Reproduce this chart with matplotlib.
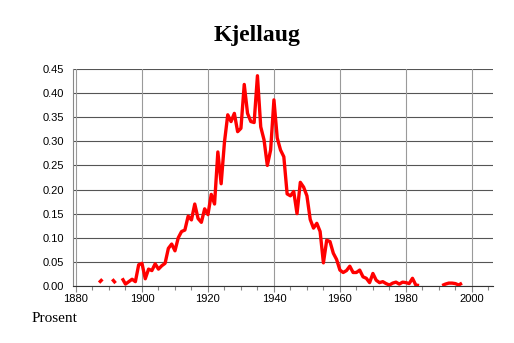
import numpy as np
import matplotlib
matplotlib.use("Agg")
import matplotlib.pyplot as plt
from matplotlib.ticker import MultipleLocator

title = "Kjellaug"
ylabel_text = "Prosent"

years = list(range(1887, 1998))
nan = np.nan
values = [
    0.007, 0.014, nan, nan, 0.014, 0.006, nan,            # 1887-1893
    0.016, 0.004, 0.009, 0.014, 0.009, 0.044,              # 1894-1899
    0.047, 0.015, 0.035, 0.032, 0.046, 0.035, 0.042, 0.047, 0.078, 0.087,  # 1900-1909
    0.073, 0.100, 0.113, 0.116, 0.145, 0.137, 0.170, 0.140, 0.132, 0.160,  # 1910-1919
    0.148, 0.190, 0.170, 0.278, 0.212, 0.298, 0.355, 0.341, 0.358, 0.320,  # 1920-1929
    0.327, 0.418, 0.358, 0.341, 0.339, 0.436, 0.330, 0.303, 0.250, 0.282,  # 1930-1939
    0.386, 0.307, 0.282, 0.268, 0.191, 0.187, 0.196, 0.150, 0.215, 0.205,  # 1940-1949
    0.187, 0.138, 0.120, 0.130, 0.113, 0.048, 0.095, 0.092, 0.068, 0.055,  # 1950-1959
    0.033, 0.028, 0.032, 0.041, 0.028, 0.028, 0.033, 0.019, 0.016, 0.007,  # 1960-1969
    0.026, 0.012, 0.007, 0.009, 0.005, 0.002, 0.006, 0.008, 0.004, 0.008,  # 1970-1979
    0.007, 0.005, 0.016, 0.002, 0.001, nan, nan, nan, nan, nan,            # 1980-1989
    nan, 0.001, 0.004, 0.006, 0.006, 0.005, 0.002, 0.006,                 # 1990-1997
]

yticks = [0.00, 0.05, 0.10, 0.15, 0.20, 0.25, 0.30, 0.35, 0.40, 0.45]
xticks = [1880, 1900, 1920, 1940, 1960, 1980, 2000]

W, H = 514, 343
fig = plt.figure(figsize=(W / 100, H / 100), dpi=100)
fig.patch.set_facecolor("white")
left, right, top, bottom = 72.7, 493.3, 69.0, 286.0
ax = fig.add_axes([left / W, 1 - bottom / H, (right - left) / W, (bottom - top) / H])

ax.plot(years, values, color="#ff0000", linewidth=2.4, solid_joinstyle="round",
        solid_capstyle="butt", zorder=3)

ax.set_xlim(1879.0, 2006.5)
ax.set_ylim(0, 0.45)
ax.set_xticks(xticks)
ax.set_yticks(yticks)
ax.set_yticklabels([f"{v:.2f}" for v in yticks])
ax.xaxis.set_minor_locator(MultipleLocator(5))

for y in yticks:
    ax.axhline(y, color="#555555", linewidth=0.8, zorder=1)
for x in xticks:
    ax.axvline(x, color="#9a9a9a", linewidth=0.8, zorder=1)

for s in ["top", "right"]:
    ax.spines[s].set_visible(False)
ax.spines["left"].set_color("#888888")
ax.spines["left"].set_linewidth(0.8)
ax.spines["bottom"].set_color("#333333")
ax.spines["bottom"].set_linewidth(0.8)

for lab in ax.get_xticklabels() + ax.get_yticklabels():
    lab.set_fontfamily("Liberation Sans")
    lab.set_fontsize(8)
ax.tick_params(axis="x", which="major", length=4, width=0.8, color="#888888", pad=1.5)
ax.tick_params(axis="x", which="minor", length=3, width=0.8, color="#888888")
ax.tick_params(axis="y", which="major", length=0, pad=6)

fig.text(257 / W, 1 - 35 / H, title, ha="center", va="center",
         fontfamily="Liberation Serif", fontweight="bold", fontsize=17)
fig.text(32 / W, 1 - 318 / H, ylabel_text, ha="left", va="center",
         fontfamily="Liberation Serif", fontsize=11)

fig.savefig("out.png", dpi=100, facecolor="white")
